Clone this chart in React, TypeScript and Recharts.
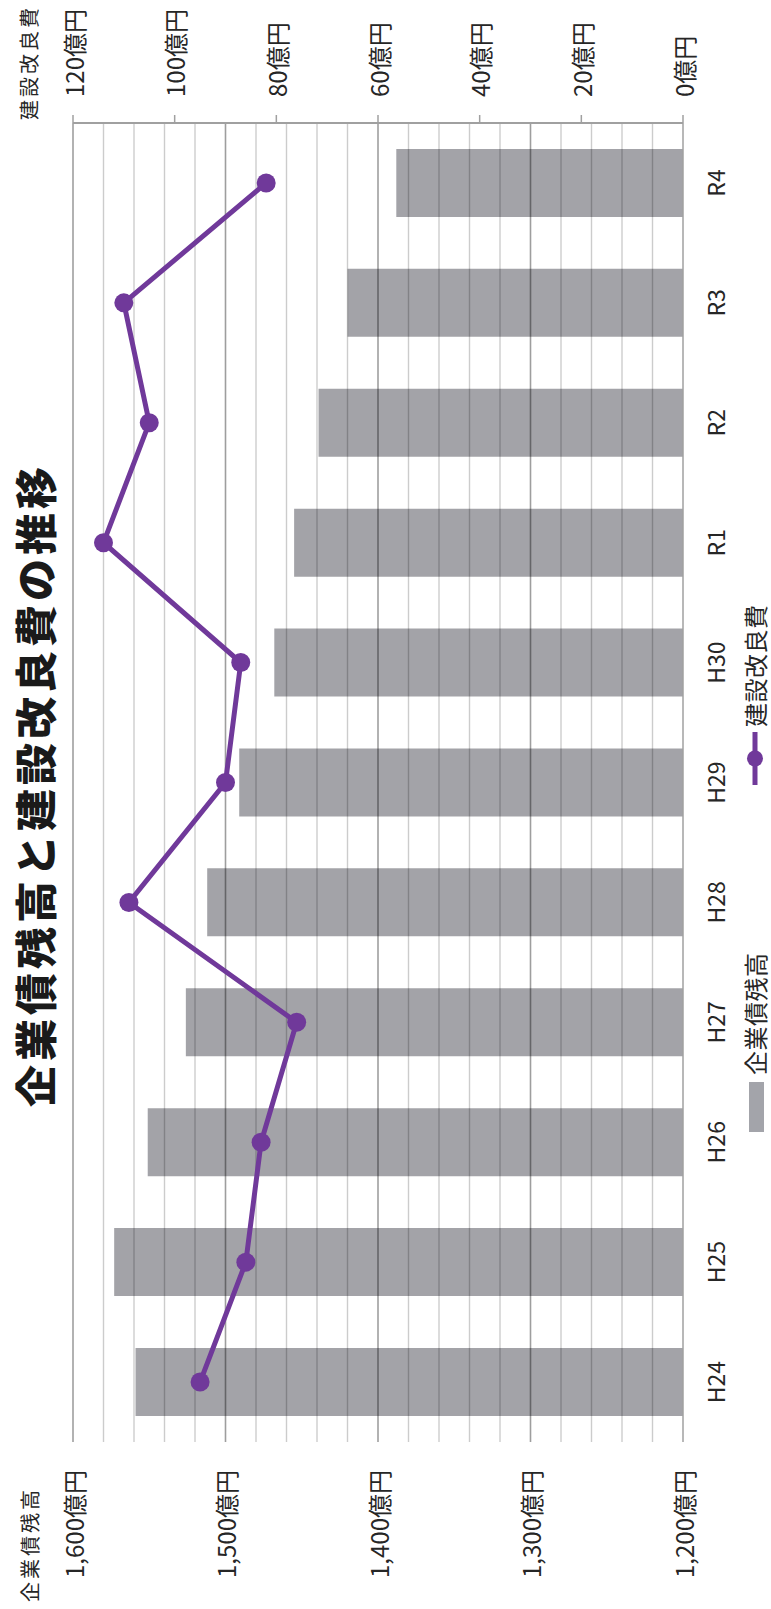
import React from 'react';
import {
  ComposedChart,
  Bar,
  Line,
  XAxis,
  YAxis,
  ReferenceLine,
} from 'recharts';

// 年度
const categories = ['H24', 'H25', 'H26', 'H27', 'H28', 'H29', 'H30', 'R1', 'R2', 'R3', 'R4'];
// 企業債残高（億円）
const debtBalance = [1559, 1573, 1551, 1526, 1512, 1491, 1468, 1455, 1439, 1420, 1388];
// 建設改良費（億円）
const constructionCost = [95, 86, 83, 76, 109, 90, 87, 114, 105, 110, 82];

// 軸目盛
const debtTicks = [1200, 1300, 1400, 1500, 1600];
const debtGridLines = [
  1220, 1240, 1260, 1280, 1300, 1320, 1340, 1360, 1380, 1400, 1420, 1440, 1460, 1480,
  1500, 1520, 1540, 1560, 1580, 1600,
];
const costTicks = [0, 20, 40, 60, 80, 100, 120];

const data = categories.map((cat, i) => ({
  cat,
  debt: debtBalance[i],
  cost: constructionCost[i],
}));

const W = 1609;
const H = 771;
const FONT = '"Noto Sans CJK JP", "Noto Sans", sans-serif';
const TEXT = '#262626';
const BAR = '#7f8086';
const PURPLE = '#70399a';
const AXIS = '#a0a0a0';

const fmtDebt = (v: number) => `${v.toLocaleString('en-US')}億円`;
const fmtCost = (v: number) => `${v}億円`;

const LeftTick = (props: any) => {
  const { x, y, payload } = props;
  return (
    <text x={x - 28} y={y} textAnchor="end" dominantBaseline="central" fontSize={24} fill={TEXT} fontFamily={FONT}>
      {fmtDebt(payload.value)}
    </text>
  );
};

const RightTick = (props: any) => {
  const { x, y, payload } = props;
  return (
    <text x={x} y={y} textAnchor="start" dominantBaseline="central" fontSize={24} fill={TEXT} fontFamily={FONT}>
      {fmtCost(payload.value)}
    </text>
  );
};

const CatTick = (props: any) => {
  const { x, y, payload } = props;
  return (
    <text x={x} y={y + 32} textAnchor="middle" dominantBaseline="central" fontSize={23} fill={TEXT} fontFamily={FONT}>
      {payload.value}
    </text>
  );
};

const abs = (left: number, top: number, extra: React.CSSProperties = {}): React.CSSProperties => ({
  position: 'absolute',
  left,
  top,
  transform: 'translateY(-50%)',
  whiteSpace: 'nowrap',
  lineHeight: 1,
  fontFamily: FONT,
  color: TEXT,
  ...extra,
});

export default function App() {
  return (
    <div style={{ position: 'absolute', left: 0, top: 0, width: H, height: W, overflow: 'hidden', background: '#fff' }}>
      <div
        style={{
          position: 'absolute',
          left: 0,
          top: 0,
          width: W,
          height: H,
          transformOrigin: '0 0',
          transform: `translateY(${W}px) rotate(-90deg)`,
          background: '#fff',
        }}
      >
        <ComposedChart
          width={W}
          height={H}
          data={data}
          margin={{ top: 73, right: 23, bottom: 38, left: 27 }}
          barCategoryGap={0}
        >
          <XAxis
            dataKey="cat"
            height={50}
            tickSize={0}
            tickMargin={0}
            tickLine={false}
            axisLine={{ stroke: AXIS, strokeWidth: 1.5 }}
            tick={<CatTick />}
            interval={0}
          />
          <YAxis
            yAxisId="debt"
            orientation="left"
            width={140}
            domain={[1200, 1600]}
            ticks={debtTicks}
            tickSize={0}
            tickMargin={0}
            tickLine={false}
            axisLine={false}
            tick={<LeftTick />}
            interval={0}
          />
          <YAxis
            yAxisId="cost"
            orientation="right"
            width={100}
            domain={[0, 120]}
            ticks={costTicks}
            tickSize={8}
            tickMargin={18}
            tickLine={{ stroke: AXIS, strokeWidth: 1.5 }}
            axisLine={{ stroke: AXIS, strokeWidth: 2 }}
            tick={<RightTick />}
            interval={0}
          />
          {debtGridLines.map((v) => (
            <ReferenceLine
              key={v}
              yAxisId="debt"
              y={v}
              stroke="#000"
              strokeOpacity={v % 100 === 0 ? 0.38 : 0.2}
              strokeWidth={v % 100 === 0 ? 1.6 : 1.4}
            />
          ))}
          <Bar
            yAxisId="debt"
            dataKey="debt"
            barSize={68}
            fill={BAR}
            fillOpacity={0.72}
            isAnimationActive={false}
          />
          <Line
            yAxisId="cost"
            dataKey="cost"
            type="linear"
            stroke={PURPLE}
            strokeWidth={5}
            dot={{ r: 9.5, fill: PURPLE, stroke: 'none' }}
            activeDot={false}
            isAnimationActive={false}
          />
        </ComposedChart>

        {/* タイトル */}
        <div style={abs(502, 34, { fontSize: 42, fontWeight: 900, letterSpacing: 4, color: '#1a1a1a' })}>
          企業債残高と建設改良費の推移
        </div>

        {/* 軸タイトル */}
        <div style={abs(7, 30, { fontSize: 20, letterSpacing: 3 })}>企業債残高</div>
        <div style={abs(1489, 29, { fontSize: 20, letterSpacing: 3 })}>建設改良費</div>

        {/* 凡例 */}
        <div style={{ position: 'absolute', left: 477, top: 749, width: 50, height: 15, background: '#a3a4aa' }} />
        <div style={abs(534, 755, { fontSize: 24, letterSpacing: 0.5 })}>企業債残高</div>
        <svg style={{ position: 'absolute', left: 820, top: 743 }} width={62} height={24}>
          <line x1={4} y1={12} x2={57} y2={12} stroke={PURPLE} strokeWidth={5} />
          <circle cx={30.5} cy={12} r={8} fill={PURPLE} />
        </svg>
        <div style={abs(882, 755, { fontSize: 24, letterSpacing: 0.5 })}>建設改良費</div>
      </div>
    </div>
  );
}
